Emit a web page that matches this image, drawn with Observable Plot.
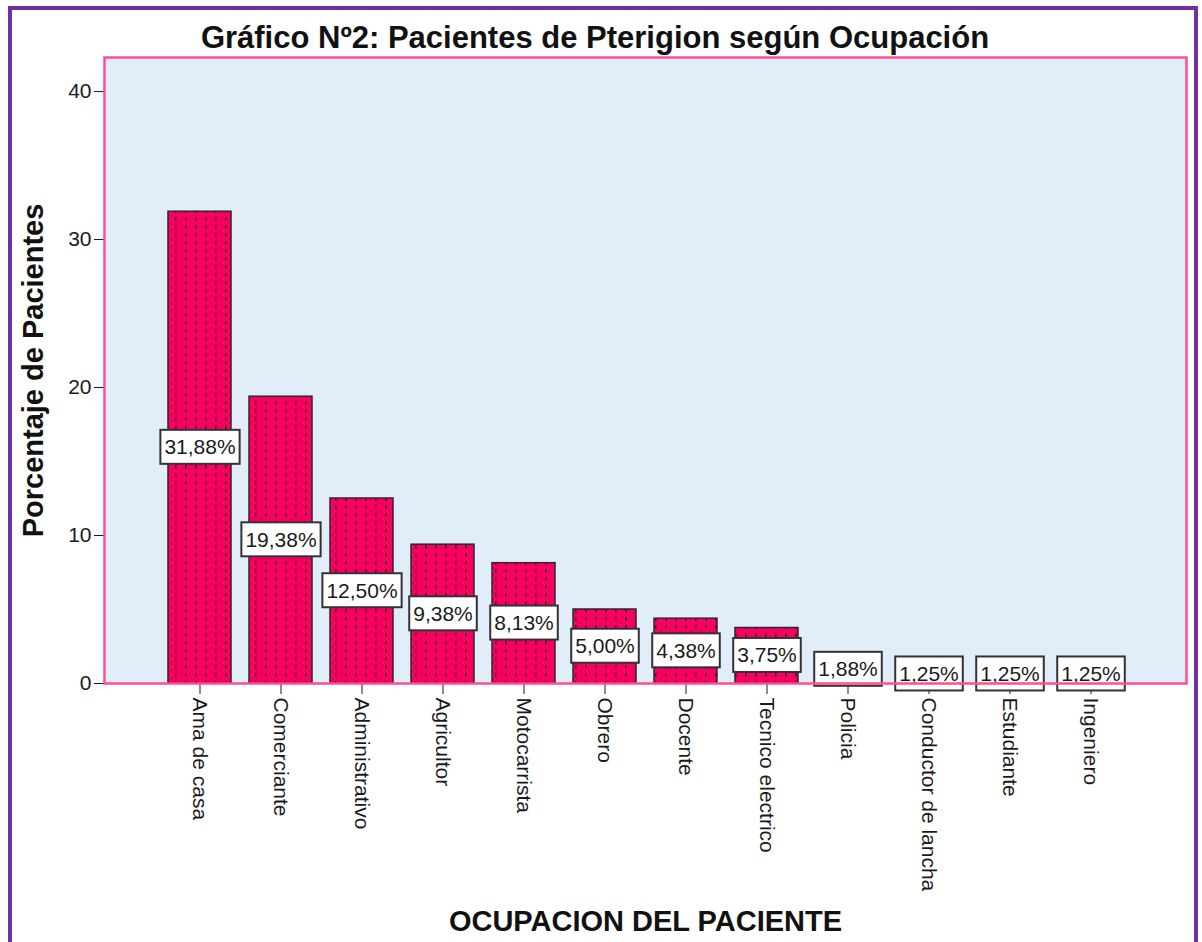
<!DOCTYPE html>
<html>
<head>
<meta charset="utf-8">
<script src="https://cdn.jsdelivr.net/npm/d3@7"></script>
<script src="https://cdn.jsdelivr.net/npm/@observablehq/plot@0.6"></script>
<style>
  html, body { margin: 0; padding: 0; background: #fff; }
  #wrap { position: relative; width: 1202px; height: 942px; overflow: hidden; font-family: "Liberation Sans", Arial, sans-serif; }
  #border { position: absolute; left: 8px; top: 6px; width: 1190px; height: 940px; border: 4px solid #7030A0; box-sizing: border-box; pointer-events: none; }
  #title { position: absolute; left: 0; top: 22px; width: 1190px; text-align: center; font-size: 31px; line-height: 31px; font-weight: bold; color: #111; }
  #chart { position: absolute; left: 0; top: 0; }
</style>
</head>
<body>
<div id="wrap">
  <div id="chart"></div>
  <div id="title">Gráfico Nº2: Pacientes de Pterigion según Ocupación</div>
  <div id="border"></div>
</div>
<script>
const occupations = ["Ama de casa", "Comerciante", "Administrativo", "Agricultor", "Motocarrista", "Obrero", "Docente", "Tecnico electrico", "Policia", "Conductor de lancha", "Estudiante", "Ingeniero"];
const percents = [31.88, 19.38, 12.50, 9.38, 8.13, 5.00, 4.38, 3.75, 1.88, 1.25, 1.25, 1.25];
const yTicks = [0, 10, 20, 30, 40];
const yTitle = "Porcentaje de Pacientes";
const xTitle = "OCUPACION DEL PACIENTE";

const data = occupations.map((occ, i) => ({occ, value: percents[i], label: percents[i].toFixed(2).replace(".", ",") + "%"}));

const svg = Plot.plot({
  width: 1202,
  height: 942,
  marginTop: 57,
  marginBottom: 259,
  marginLeft: 104,
  marginRight: 16,
  style: {fontFamily: "'Liberation Sans', Arial, sans-serif", fontSize: "21px", color: "#1a1a1a", background: "transparent"},
  x: {domain: occupations, padding: 0.22, insetLeft: 45, insetRight: 45, label: null, tickRotate: 90, tickSize: 11, tickPadding: 3},
  y: {domain: [0, 42.3], ticks: yTicks, label: null, tickSize: 10, tickPadding: 3},
  marks: [
    Plot.frame({fill: "#E1EDF9", stroke: "none"}),
    Plot.barY(data, {x: "occ", y: "value", fill: "url(#dotpat)", stroke: "#2a2a2a", strokeWidth: 1.5}),
    Plot.text(data, {x: "occ", y: d => d.value / 2, text: "label", fill: "#1a1a1a", fontSize: 21}),
    Plot.frame({stroke: "#FF4D94", strokeWidth: 2.5}),
    Plot.text([yTitle], {frameAnchor: "left", dx: -71, rotate: -90, textAnchor: "middle", lineAnchor: "middle", fontSize: 29, fontWeight: "bold", fill: "#111"}),
    Plot.text([xTitle], {frameAnchor: "bottom", dy: 238, textAnchor: "middle", lineAnchor: "middle", fontSize: 29, fontWeight: "bold", fill: "#111"})
  ]
});

document.getElementById("chart").appendChild(svg);

// pattern for bars
const ns = "http://www.w3.org/2000/svg";
const defs = document.createElementNS(ns, "defs");
defs.innerHTML = `<pattern id="dotpat" patternUnits="userSpaceOnUse" width="10" height="8">
  <rect width="10" height="8" fill="#F70060"></rect>
  <rect x="5" y="1" width="1.6" height="3.8" fill="#5e0830"></rect>
</pattern>`;
svg.insertBefore(defs, svg.firstChild);

// white boxes behind the value labels
svg.querySelectorAll("text").forEach(t => {
  if (!/%$/.test(t.textContent)) return;
  const b = t.getBBox();
  const r = document.createElementNS(ns, "rect");
  const cy = b.y + b.height / 2;
  r.setAttribute("x", b.x - 4);
  r.setAttribute("y", cy - 17);
  r.setAttribute("width", b.width + 8);
  r.setAttribute("height", 34);
  r.setAttribute("fill", "#fff");
  r.setAttribute("stroke", "#333");
  r.setAttribute("stroke-width", 2);
  if (t.getAttribute("transform")) r.setAttribute("transform", t.getAttribute("transform"));
  t.parentNode.insertBefore(r, t);
});
</script>
</body>
</html>
